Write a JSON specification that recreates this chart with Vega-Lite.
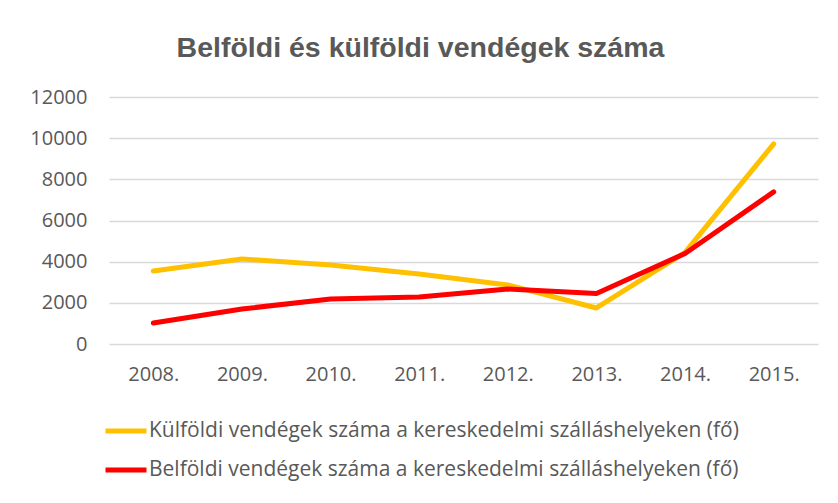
{
  "$schema": "https://vega.github.io/schema/vega-lite/v6.json",
  "autosize": "none",
  "width": 709,
  "height": 247,
  "padding": {"left": 109, "top": 97, "right": 20, "bottom": 159},
  "background": "white",
  "title": {
    "text": "Belföldi és külföldi vendégek száma",
    "font": "Liberation Sans",
    "fontSize": 28.5,
    "fontWeight": "bold",
    "color": "#595959",
    "anchor": "middle",
    "dx": -43,
    "offset": 25
  },
  "data": {
    "values": [
      {"ev": "2008.", "sor": "Külföldi vendégek száma a kereskedelmi szálláshelyeken (fő)", "ertek": 3550},
      {"ev": "2009.", "sor": "Külföldi vendégek száma a kereskedelmi szálláshelyeken (fő)", "ertek": 4130},
      {"ev": "2010.", "sor": "Külföldi vendégek száma a kereskedelmi szálláshelyeken (fő)", "ertek": 3840},
      {"ev": "2011.", "sor": "Külföldi vendégek száma a kereskedelmi szálláshelyeken (fő)", "ertek": 3400},
      {"ev": "2012.", "sor": "Külföldi vendégek száma a kereskedelmi szálláshelyeken (fő)", "ertek": 2870},
      {"ev": "2013.", "sor": "Külföldi vendégek száma a kereskedelmi szálláshelyeken (fő)", "ertek": 1750},
      {"ev": "2014.", "sor": "Külföldi vendégek száma a kereskedelmi szálláshelyeken (fő)", "ertek": 4450},
      {"ev": "2015.", "sor": "Külföldi vendégek száma a kereskedelmi szálláshelyeken (fő)", "ertek": 9720},
      {"ev": "2008.", "sor": "Belföldi vendégek száma a kereskedelmi szálláshelyeken (fő)", "ertek": 1020},
      {"ev": "2009.", "sor": "Belföldi vendégek száma a kereskedelmi szálláshelyeken (fő)", "ertek": 1700},
      {"ev": "2010.", "sor": "Belföldi vendégek száma a kereskedelmi szálláshelyeken (fő)", "ertek": 2190},
      {"ev": "2011.", "sor": "Belföldi vendégek száma a kereskedelmi szálláshelyeken (fő)", "ertek": 2280},
      {"ev": "2012.", "sor": "Belföldi vendégek száma a kereskedelmi szálláshelyeken (fő)", "ertek": 2670},
      {"ev": "2013.", "sor": "Belföldi vendégek száma a kereskedelmi szálláshelyeken (fő)", "ertek": 2450},
      {"ev": "2014.", "sor": "Belföldi vendégek száma a kereskedelmi szálláshelyeken (fő)", "ertek": 4400},
      {"ev": "2015.", "sor": "Belföldi vendégek száma a kereskedelmi szálláshelyeken (fő)", "ertek": 7390}
    ]
  },
  "mark": {"type": "line", "strokeWidth": 5, "strokeCap": "round", "strokeJoin": "round"},
  "encoding": {
    "x": {
      "field": "ev", "type": "ordinal", "title": null,
      "scale": {"type": "point", "padding": 0.5},
      "axis": {"labelAngle": 0, "domain": false, "ticks": false, "grid": false, "labelPadding": 20, "labelFont": "Open Sans", "labelFontSize": 20, "labelColor": "#595959"}
    },
    "y": {
      "field": "ertek", "type": "quantitative", "title": null,
      "scale": {"domain": [0, 12000], "nice": false},
      "axis": {"values": [0, 2000, 4000, 6000, 8000, 10000, 12000], "format": "d", "domain": false, "ticks": false, "gridColor": "#D9D9D9", "gridWidth": 1.5, "labelPadding": 22, "labelFont": "Open Sans", "labelFontSize": 20, "labelColor": "#595959"}
    },
    "color": {
      "field": "sor", "type": "nominal", "title": null,
      "sort": ["Külföldi vendégek száma a kereskedelmi szálláshelyeken (fő)", "Belföldi vendégek száma a kereskedelmi szálláshelyeken (fő)"],
      "scale": {"domain": ["Külföldi vendégek száma a kereskedelmi szálláshelyeken (fő)", "Belföldi vendégek száma a kereskedelmi szálláshelyeken (fő)"], "range": ["#FFC000", "#FF0000"]},
      "legend": {
        "orient": "none", "legendX": -6, "legendY": 311, "direction": "vertical",
        "symbolType": "stroke", "symbolSize": 1681, "symbolStrokeWidth": 5,
        "labelFont": "Open Sans", "labelFontSize": 21, "labelColor": "#595959",
        "labelOffset": 0, "rowPadding": 6, "labelLimit": 0
      }
    }
  },
  "config": {"view": {"stroke": null}}
}
